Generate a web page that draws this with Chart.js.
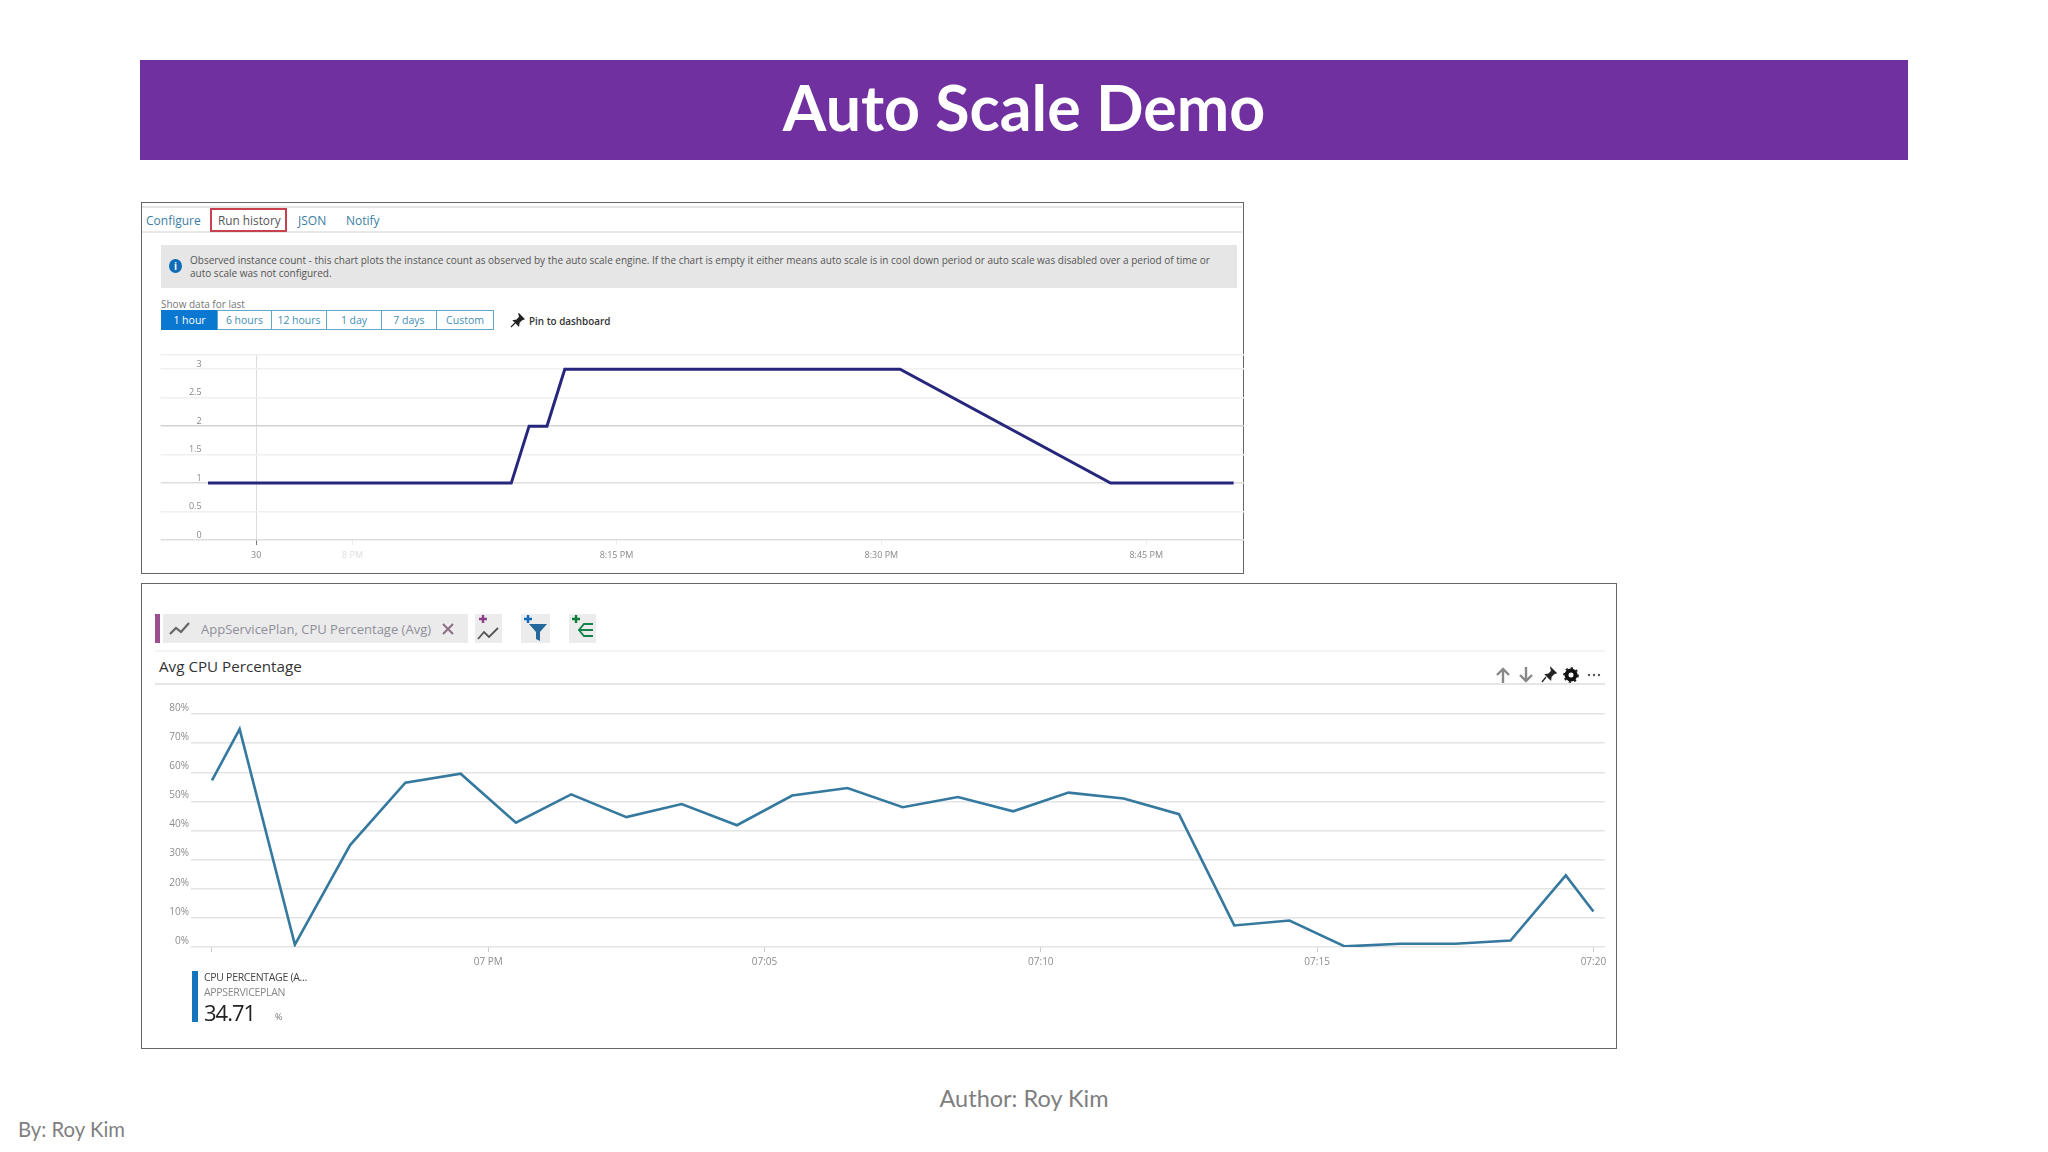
<!DOCTYPE html>
<html>
<head>
<meta charset="utf-8">
<title>Auto Scale Demo</title>
<script src="https://cdn.jsdelivr.net/npm/chart.js@4"></script>
<style>
    html, body { margin: 0; padding: 0; background: #fff; width: 2048px; height: 1152px; overflow: hidden; }
    body { font-family: 'Open Sans', sans-serif; position: relative; }
    .abs, .abs * { white-space: nowrap; }
    .abs { position: absolute; }
    canvas { position: absolute; }
    .frame { position: absolute; border: 1.5px solid #666; box-sizing: border-box; background: #fff; }
    .soft { filter: blur(0.7px); }
    .btn { position: absolute; top: 310px; height: 20px; line-height: 19px; box-sizing: border-box; border: 1px solid #5fa8c8; color: #3f8fb5; font-size: 10.5px; text-align: center; }
    .rule { position: absolute; height: 1.5px; }
    .iconbox { position: absolute; top: 614px; height: 29px; background: #ececec; }
</style>
</head>
<body>

<div class="abs" style="left:140px;top:60px;width:1768px;height:100px;background:#7030a0;"></div>
<div class="abs" id="titulo" style="left:140px;top:60px;width:1768px;height:100px;line-height:94px;text-align:center;color:#fff;font-family:Lato;font-weight:700;font-size:62.7px;">Auto Scale Demo</div>

<!-- painel de cima: run history -->
<div class="soft">
    <div class="frame" style="left:141px;top:202px;width:1103px;height:372px;"></div>
    <div class="rule" style="left:142px;top:206px;width:1100px;background:#e4e4e4;"></div>
    <div class="rule" style="left:142px;top:231px;width:1100px;background:#e8e8e8;"></div>
    <div class="abs" style="left:146px;top:212px;font-size:12px;color:#3b7ea6;">Configure</div>
    <div class="abs" style="left:210px;top:208px;width:77px;height:24px;box-sizing:border-box;border:2px solid #c8414e;"></div>
    <div class="abs" style="left:218px;top:212px;font-size:11.8px;color:#555;">Run history</div>
    <div class="abs" style="left:298px;top:212px;font-size:12px;color:#3b7ea6;">JSON</div>
    <div class="abs" style="left:346px;top:212px;font-size:12px;color:#3b7ea6;">Notify</div>

    <div class="abs" style="left:161px;top:245px;width:1076px;height:43px;background:#e6e6e6;"></div>
    <div class="abs" style="left:169px;top:259px;width:13px;height:14px;border-radius:50%;background:#0f6cb8;color:#fff;font-size:10px;font-weight:700;line-height:14px;text-align:center;">i</div>
    <div class="abs" style="left:190px;top:253px;font-size:10px;color:#555;">Observed instance count - this chart plots the instance count as observed by the auto scale engine. If the chart is empty it either means auto scale is in cool down period or auto scale was disabled over a period of time or</div>
    <div class="abs" style="left:190px;top:266px;font-size:10px;color:#555;">auto scale was not configured.</div>

    <div class="abs" style="left:161px;top:297px;font-size:10px;color:#777;">Show data for last</div>
    <div class="btn" style="left:161px;width:57px;background:#0a78d0;border-color:#0a78d0;color:#fff;">1 hour</div>
    <div class="btn" style="left:217px;width:55px;">6 hours</div>
    <div class="btn" style="left:271px;width:56px;">12 hours</div>
    <div class="btn" style="left:326px;width:56px;">1 day</div>
    <div class="btn" style="left:381px;width:56px;">7 days</div>
    <div class="btn" style="left:436px;width:58px;">Custom</div>
    <svg class="abs" style="left:510px;top:313px;" width="15" height="15" viewBox="0 0 15 15"><path d="M9 1l5 5-2 .6-3 3-.4 3-5-5 3-.5 3-3zM5 10l-4 4" fill="#222" stroke="#222" stroke-width="1.2"/></svg>
    <div class="abs" style="left:529px;top:314px;font-size:9.9px;font-weight:600;color:#333;">Pin to dashboard</div>

    <canvas id="graficoInstancias" width="1102" height="228" style="left:142px;top:345px;"></canvas>
</div>

<!-- painel de baixo: cpu -->
<div class="soft">
    <div class="frame" style="left:141px;top:583px;width:1476px;height:466px;"></div>
    <div class="abs" style="left:155px;top:614px;width:5px;height:29px;background:#9b4f8f;"></div>
    <div class="abs" style="left:163px;top:614px;width:305px;height:29px;background:#ebebeb;"></div>
    <svg class="abs" style="left:168px;top:619px;" width="24" height="19" viewBox="0 0 24 19"><path d="M2 15l6-6 5 4 8-9" fill="none" stroke="#666" stroke-width="2.2"/></svg>
    <div class="abs" style="left:201px;top:620px;font-size:13px;color:#8f8f9a;">AppServicePlan, CPU Percentage (Avg)</div>
    <svg class="abs" style="left:441px;top:622px;" width="14" height="14" viewBox="0 0 14 14"><path d="M2 2l10 10M12 2L2 12" stroke="#8a6a80" stroke-width="1.8"/></svg>

    <div class="iconbox" style="left:475px;width:27px;"></div>
    <svg class="abs" style="left:475px;top:614px;" width="27" height="29" viewBox="0 0 27 29"><path d="M4 5h8M8 1v8" stroke="#8b3f87" stroke-width="2.4"/><path d="M3 25l6-7 5 5 9-9" fill="none" stroke="#555" stroke-width="1.8"/></svg>
    <div class="iconbox" style="left:521px;width:29px;"></div>
    <svg class="abs" style="left:521px;top:614px;" width="29" height="29" viewBox="0 0 29 29"><path d="M3 5h8M7 1v8" stroke="#1368b8" stroke-width="2.4"/><path d="M8 10h18l-7 8v9l-4-2v-7z" fill="#24689c"/></svg>
    <div class="iconbox" style="left:569px;width:27px;"></div>
    <svg class="abs" style="left:569px;top:614px;" width="27" height="29" viewBox="0 0 27 29"><path d="M3 5h8M7 1v8" stroke="#0d7d3e" stroke-width="2.4"/><path d="M24 10h-9l-5 6 5 6h9M10 16h14" fill="none" stroke="#13854a" stroke-width="1.9"/></svg>

    <div class="rule" style="left:155px;top:650px;width:1450px;background:#f3f3f3;"></div>
    <div class="abs" style="left:159px;top:656px;font-size:15.2px;color:#333;">Avg CPU Percentage</div>
    <div class="rule" style="left:155px;top:683px;width:1450px;background:#e6e6e6;"></div>

    <svg class="abs" style="left:1494px;top:666px;" width="112" height="18" viewBox="0 0 112 18">
        <path d="M9 17V3M3 9l6-6 6 6M32 1v14M26 9l6 6 6-6" fill="none" stroke="#888" stroke-width="2.4"/>
        <path d="M57 2l5 5-2 .6-3 3-.4 3-5-5 3-.5 3-3zM52 11l-4 5" fill="#222" stroke="#222" stroke-width="1.3"/>
        <circle cx="77" cy="9" r="4.5" fill="none" stroke="#111" stroke-width="4"/><circle cx="77" cy="9" r="7" fill="none" stroke="#111" stroke-width="1.6" stroke-dasharray="2.4 3"/>
        <circle cx="95" cy="9" r="1.2" fill="#555"/><circle cx="100" cy="9" r="1.2" fill="#555"/><circle cx="105" cy="9" r="1.2" fill="#555"/>
    </svg>

    <canvas id="graficoCpu" width="1470" height="290" style="left:143px;top:700px;"></canvas>

    <div class="abs" style="left:192px;top:971px;width:6px;height:51px;background:#1475bd;"></div>
    <div class="abs" style="left:204px;top:970px;font-size:10.5px;letter-spacing:-0.3px;color:#444;">CPU PERCENTAGE (A...</div>
    <div class="abs" style="left:204px;top:985px;font-size:10.5px;letter-spacing:-0.3px;color:#888;">APPSERVICEPLAN</div>
    <div class="abs" style="left:204px;top:997px;font-size:22px;letter-spacing:-1px;color:#222;">34.71</div>
    <div class="abs" style="left:275px;top:1010px;font-size:9px;color:#777;">%</div>
</div>

<div class="abs" style="left:0;top:1084px;width:2048px;text-align:center;font-family:Lato;font-size:23.5px;color:#7f7f7f;">Author: Roy Kim</div>
<div class="abs" style="left:18px;top:1117px;font-family:Lato;font-size:20.3px;color:#7f7f7f;">By: Roy Kim</div>

<script>
// instancias observadas (minutos a partir das 8 PM)
const minutosInstancias = [-7.6, 9.4, 10.4, 11.4, 12.4, 31.2, 43, 49.9];
const valoresInstancias = [1, 1, 2, 2, 3, 3, 1, 1];
const ticksXInstancias = [-4.9, 0.5, 15.3, 30.15, 45];
const labelsXInstancias = ['30', '8 PM', '8:15 PM', '8:30 PM', '8:45 PM'];
const ticksYInstancias = [0, 0.5, 1, 1.5, 2, 2.5, 3, 3.25];
const labelsYInstancias = ['0', '0.5', '1', '1.5', '2', '2.5', '3', ''];

// cpu media (minutos a partir das 7 PM)
const minutosCpu = [-5, -4.5, -3.5, -2.5, -1.5, -0.5, 0.5, 1.5, 2.5, 3.5, 4.5, 5.5, 6.5, 7.5, 8.5, 9.5, 10.5, 11.5, 12.5, 13.5, 14.5, 15.5, 16.5, 17.5, 18.5, 19.5, 20];
const valoresCpu = [57.2, 74.8, 0.8, 35, 56.4, 59.5, 42.7, 52.4, 44.6, 49.1, 41.8, 52, 54.6, 48, 51.5, 46.6, 53, 51, 45.6, 7.4, 9.1, 0.2, 1.1, 1.1, 2.2, 24.6, 12.2];
const ticksXCpu = [-5, 0, 5, 10, 15, 20];
const labelsXCpu = ['', '07 PM', '07:05', '07:10', '07:15', '07:20'];
const ticksYCpu = [0, 10, 20, 30, 40, 50, 60, 70, 80];

const fonte = { family: "'Open Sans', sans-serif", size: 10 };

function pontos(xs, ys) {
    return xs.map((x, i) => ({ x: x, y: ys[i] }));
}

function usarTicks(lista) {
    return scale => { scale.ticks = lista.map(v => ({ value: v })); };
}

// Grafico de instancias
new Chart(document.getElementById('graficoInstancias'), {
    type: 'line',
    data: {
        datasets: [{
            data: pontos(minutosInstancias, valoresInstancias),
            borderColor: '#26267c',
            borderWidth: 3,
            pointRadius: 0,
            tension: 0
        }]
    },
    options: {
        responsive: false,
        animation: false,
        layout: { padding: { top: 10 } },
        plugins: { legend: { display: false }, tooltip: { enabled: false } },
        scales: {
            x: {
                type: 'linear',
                min: -7.77,
                max: 50.48,
                afterBuildTicks: usarTicks(ticksXInstancias),
                afterFit: s => { s.height = 33; },
                border: { display: false },
                grid: {
                    color: c => c.index === 0 ? '#dcdcdc' : 'rgba(0,0,0,0)',
                    tickColor: c => c.index === 0 ? '#777' : '#eee',
                    tickLength: 5
                },
                ticks: {
                    autoSkip: false,
                    maxRotation: 0,
                    padding: 5,
                    font: { family: fonte.family, size: 9 },
                    color: c => c.index === 1 ? '#ddd' : '#888',
                    callback: (v, i) => labelsXInstancias[i]
                }
            },
            y: {
                min: 0,
                max: 3.25,
                afterBuildTicks: usarTicks(ticksYInstancias),
                afterFit: s => { s.width = 63; },
                border: { display: false },
                grid: {
                    color: c => {
                        if (c.tick.value === 2) return '#d2d2d2';
                        if (c.tick.value === 1 || c.tick.value === 0) return '#dedede';
                        return '#f0f0f0';
                    },
                    lineWidth: 1.5,
                    tickLength: 44.4
                },
                ticks: {
                    padding: -41,
                    labelOffset: -5,
                    font: { family: fonte.family, size: 9 },
                    color: '#888',
                    callback: (v, i) => labelsYInstancias[i]
                }
            }
        }
    }
});

// Grafico de CPU
new Chart(document.getElementById('graficoCpu'), {
    type: 'line',
    data: {
        datasets: [{
            data: pontos(minutosCpu, valoresCpu),
            borderColor: '#35799f',
            borderWidth: 2.6,
            pointRadius: 0,
            tension: 0
        }]
    },
    options: {
        responsive: false,
        animation: false,
        layout: { padding: { top: 14, right: 8 } },
        plugins: { legend: { display: false }, tooltip: { enabled: false } },
        scales: {
            x: {
                type: 'linear',
                min: -5.38,
                max: 20.21,
                afterBuildTicks: usarTicks(ticksXCpu),
                afterFit: s => { s.height = 43; },
                border: { display: false },
                grid: {
                    color: 'rgba(0,0,0,0)',
                    tickColor: '#ccc',
                    tickLength: 5
                },
                ticks: {
                    autoSkip: false,
                    maxRotation: 0,
                    padding: 4,
                    font: fonte,
                    color: '#8c8c8c',
                    callback: (v, i) => labelsXCpu[i]
                }
            },
            y: {
                min: 0,
                max: 80,
                afterBuildTicks: usarTicks(ticksYCpu),
                afterFit: s => { s.width = 48; },
                border: { display: false },
                grid: { color: '#e4e4e4', lineWidth: 1.5, drawTicks: false },
                ticks: {
                    padding: 2,
                    labelOffset: -6,
                    font: fonte,
                    color: '#8c8c8c',
                    callback: v => v + '%'
                }
            }
        }
    }
});
</script>
</body>
</html>
